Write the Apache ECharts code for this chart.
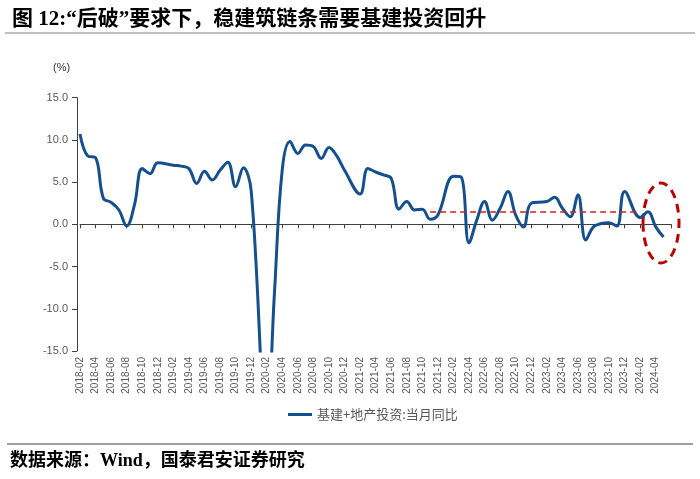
<!DOCTYPE html>
<html><head><meta charset="utf-8">
<script src="https://cdn.jsdelivr.net/npm/echarts@6/dist/echarts.min.js"></script>
<style>html,body{margin:0;padding:0;background:#fff}#c{width:700px;height:479px}</style>
</head><body><div id="c"></div>
<script>
const months = [
 '2018-02','2018-03','2018-04','2018-05','2018-06','2018-07','2018-08','2018-09','2018-10','2018-11','2018-12',
 '2019-01','2019-02','2019-03','2019-04','2019-05','2019-06','2019-07','2019-08','2019-09','2019-10','2019-11','2019-12',
 '2020-01','2020-02','2020-03','2020-04','2020-05','2020-06','2020-07','2020-08','2020-09','2020-10','2020-11','2020-12',
 '2021-01','2021-02','2021-03','2021-04','2021-05','2021-06','2021-07','2021-08','2021-09','2021-10','2021-11','2021-12',
 '2022-01','2022-02','2022-03','2022-04','2022-05','2022-06','2022-07','2022-08','2022-09','2022-10','2022-11','2022-12',
 '2023-01','2023-02','2023-03','2023-04','2023-05','2023-06','2023-07','2023-08','2023-09','2023-10','2023-11','2023-12',
 '2024-01','2024-02','2024-03','2024-04','2024-05','2024-06'
];
// 基建+地产投资:当月同比 (%), January not published (null)
const investYoY = [
 10.7, 8.1, 7.9, 3.1, 2.6, 1.7, -0.2, 2.3, 6.6, 6.0, 7.3,
 null, 7.0, 6.9, 6.6, 4.85, 6.3, 5.25, 6.4, 7.35, 4.45, 6.7, 4.0,
 null, -24, -8, 6.5, 9.8, 8.4, 9.4, 9.2, 7.8, 9.1, 8.1, 6.4,
 null, 3.6, 6.6, 6.2, 5.85, 5.45, 1.8, 2.7, 1.7, 1.8, 0.6, 1.1,
 null, 5.7, 5.6, -2.2, 0.5, 2.7, 0.5, 1.9, 3.9, 1.1, -0.3, 2.5,
 null, 2.7, 3.2, 1.9, 0.9, 3.5, -1.85, -0.3, 0.1, 0.2, -0.2, 3.9,
 null, 0.8, 1.5, -0.3, -1.5, null
];
const seriesName = '基建+地产投资:当月同比';
const refLevel = 1.5;
const refStart = '2021-11';
const refEnd = '2024-02';
const lastLabelIndex = 74;

const chart = echarts.init(document.getElementById('c'), null, {renderer: 'canvas'});
const grey = '#595959';
const option = {
  animation: false,
  backgroundColor: '#fff',
  title: {
    text: '图 12:“后破”要求下，稳建筑链条需要基建投资回升',
    left: 7, top: 4,
    textStyle: {fontSize: 21, fontWeight: 'bold', color: '#000', fontFamily: "'Liberation Serif','Noto Sans CJK SC'"}
  },
  grid: {left: 80, right: 28.7, top: 97.7, bottom: 128},
  legend: {
    left: 283, top: 403,
    icon: 'rect', itemWidth: 24, itemHeight: 3, itemGap: 2,
    textStyle: {color: grey, fontSize: 13, fontFamily: "'Noto Sans CJK SC'"},
    data: [seriesName]
  },
  xAxis: [
    {
      type: 'category', data: months, boundaryGap: false, position: 'bottom',
      axisLine: {show: false, onZero: false},
      axisTick: {show: false},
      axisLabel: {
        rotate: 90, margin: 6, color: grey, fontSize: 10, fontFamily: "'Liberation Sans'",
        interval: function (idx) { return idx % 2 === 0 && idx <= lastLabelIndex; }
      },
      splitLine: {show: false}
    },
    {
      type: 'category', data: months, boundaryGap: false, position: 'bottom',
      axisLine: {show: true, onZero: true, lineStyle: {color: '#404040', width: 1}},
      axisTick: {show: true, length: 4, interval: function (idx) { return idx % 2 === 0; }, lineStyle: {color: '#404040'}},
      axisLabel: {show: false},
      splitLine: {show: false}
    }
  ],
  yAxis: {
    type: 'value', min: -15, max: 15, interval: 5, offset: 3,
    axisLine: {show: true, lineStyle: {color: '#404040', width: 1}},
    axisTick: {show: true, length: 5, lineStyle: {color: '#404040'}},
    axisLabel: {color: grey, fontSize: 11, margin: 9, fontFamily: "'Liberation Sans'",
      formatter: function (v) { return v.toFixed(1); }},
    splitLine: {show: false}
  },
  series: [{
    name: seriesName, type: 'line', data: investYoY, xAxisIndex: 0,
    smooth: 0.4, connectNulls: true, showSymbol: false, clip: true,
    lineStyle: {color: '#14508F', width: 3},
    itemStyle: {color: '#14508F'},
    markLine: {
      silent: true, symbol: 'none', label: {show: false},
      lineStyle: {color: '#D0202A', width: 1.5, type: [6, 4]},
      data: [[{coord: [refStart, refLevel]}, {coord: [refEnd, refLevel]}]]
    }
  }],
  graphic: [
    {type: 'line', shape: {x1: 5, y1: 33, x2: 695, y2: 33}, style: {stroke: '#808080', lineWidth: 1}},
    {type: 'line', shape: {x1: 7, y1: 444, x2: 693, y2: 444}, style: {stroke: '#404040', lineWidth: 1}},
    {type: 'text', left: 53, top: 62, style: {text: '(%)', fill: '#333', fontSize: 11, fontFamily: "'Liberation Sans'"}},
    {type: 'text', left: 10, top: 452, style: {text: '数据来源：Wind，国泰君安证券研究', fill: '#000', fontSize: 18, fontWeight: 'bold', fontFamily: "'Liberation Serif','Noto Sans CJK SC'"}},
    {type: 'ellipse', shape: {cx: 661, cy: 223, rx: 18, ry: 40}, style: {fill: 'none', stroke: '#C00000', lineWidth: 3, lineDash: [9, 6]}}
  ]
};
chart.setOption(option);
</script>
</body></html>
